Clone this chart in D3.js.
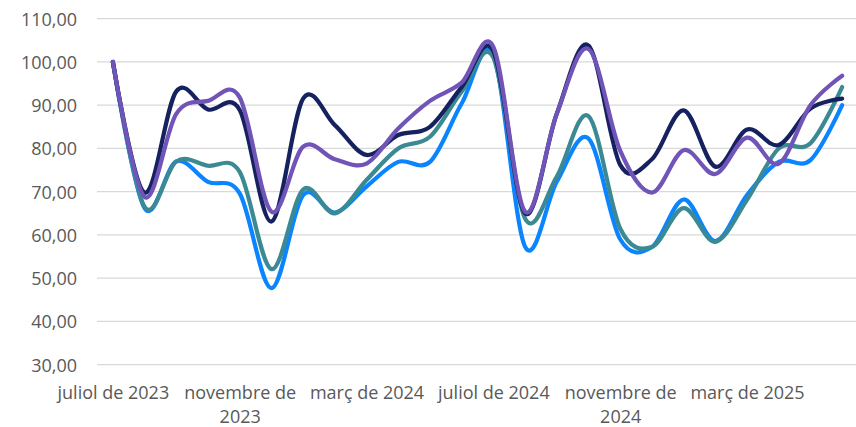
<!DOCTYPE html>
<html>
<head>
<meta charset="utf-8">
<script src="https://cdn.jsdelivr.net/npm/d3@7"></script>
<style>
  html, body { margin: 0; padding: 0; background: #fff; }
  svg { display: block; }
  text { font-family: "Open Sans", sans-serif; fill: #595959; }
</style>
</head>
<body>
<svg id="chart" width="856" height="427"></svg>
<script>
const months = [
  "juliol de 2023","agost de 2023","setembre de 2023","octubre de 2023","novembre de 2023","desembre de 2023",
  "gener de 2024","febrer de 2024","març de 2024","abril de 2024","maig de 2024","juny de 2024",
  "juliol de 2024","agost de 2024","setembre de 2024","octubre de 2024","novembre de 2024","desembre de 2024",
  "gener de 2025","febrer de 2025","març de 2025","abril de 2025","maig de 2025","juny de 2025"
];
const tickMonths = ["juliol de 2023","novembre de 2023","març de 2024","juliol de 2024","novembre de 2024","març de 2025"];
const tickLabels = [["juliol de 2023"],["novembre de","2023"],["març de 2024"],["juliol de 2024"],["novembre de","2024"],["març de 2025"]];
const yTicks = [30,40,50,60,70,80,90,100,110];

const seriesBlue   = [100,66.2,77.0,72.3,69.6,47.7,69.2,65.2,71.2,76.9,76.9,90.4,101.5,57.3,72.3,82.3,59.0,57.2,68.2,58.6,69.2,76.9,77.3,90.0];
const seriesTeal   = [100,66.5,77.0,76.0,74.6,52.1,70.5,65.0,72.7,80.0,82.7,93.1,101.0,63.8,73.5,87.5,61.5,57.2,66.2,58.4,68.1,80.0,81.2,94.2];
const seriesNavy   = [100,69.8,93.2,89.0,88.9,63.1,91.5,85.4,78.5,83.1,85.0,94.2,102.5,65.0,88.0,103.8,76.2,77.5,88.8,75.8,84.4,80.8,89.2,91.5];
const seriesPurple = [100,68.8,88.0,91.0,91.8,65.4,80.4,77.5,76.5,84.6,91.0,95.2,103.5,65.4,88.0,103.0,79.5,69.8,79.6,74.1,82.5,76.5,90.0,96.8];

const series = [
  {values: seriesBlue,   color: "#0a84ff"},
  {values: seriesTeal,   color: "#3b8a93"},
  {values: seriesNavy,   color: "#16215f"},
  {values: seriesPurple, color: "#7054b7"}
];

const svg = d3.select("#chart");
const plotLeft = 97, plotRight = 858, gridRight = 856;
const x = d3.scalePoint().domain(months).range([plotLeft, plotRight]).padding(0.5);
const y = d3.scaleLinear().domain([30, 110]).range([364.7, 18.7]);

// gridlines
svg.append("g").selectAll("line").data(yTicks).join("line")
  .attr("x1", plotLeft).attr("x2", gridRight)
  .attr("y1", d => y(d)).attr("y2", d => y(d))
  .attr("stroke", "#d9d9d9").attr("stroke-width", 1.3);

// y axis labels
const yAxis = d3.axisLeft(y).tickValues(yTicks).tickSize(0).tickPadding(0)
  .tickFormat(d => d3.format(".2f")(d).replace(".", ","));
const gy = svg.append("g").attr("transform", "translate(77,0)").call(yAxis);
gy.select(".domain").remove();
gy.selectAll("text").attr("font-size", 18).attr("font-family", "Open Sans").attr("fill", "#595959").attr("dy", "0.35em");

// x axis labels
const xAxis = d3.axisBottom(x).tickValues(tickMonths).tickSize(0).tickPadding(0).tickFormat("");
const gx = svg.append("g").call(xAxis);
gx.select(".domain").remove();
gx.selectAll(".tick").each(function(d, i) {
  const t = d3.select(this).append("text")
    .attr("text-anchor", "middle").attr("font-size", 18)
    .attr("font-family", "Open Sans").attr("fill", "#595959");
  tickLabels[i].forEach((ln, j) => {
    t.append("tspan").attr("x", 0).attr("y", 399 + j * 23.5).text(ln);
  });
});

// lines
const line = d3.line()
  .x((d, i) => x(months[i]))
  .y(d => y(d))
  .curve(d3.curveCardinal.tension(0));

svg.append("g").selectAll("path").data(series).join("path")
  .attr("d", s => line(s.values))
  .attr("fill", "none")
  .attr("stroke", s => s.color)
  .attr("stroke-width", 4.2)
  .attr("stroke-linecap", "round")
  .attr("stroke-linejoin", "round");
</script>
</body>
</html>
